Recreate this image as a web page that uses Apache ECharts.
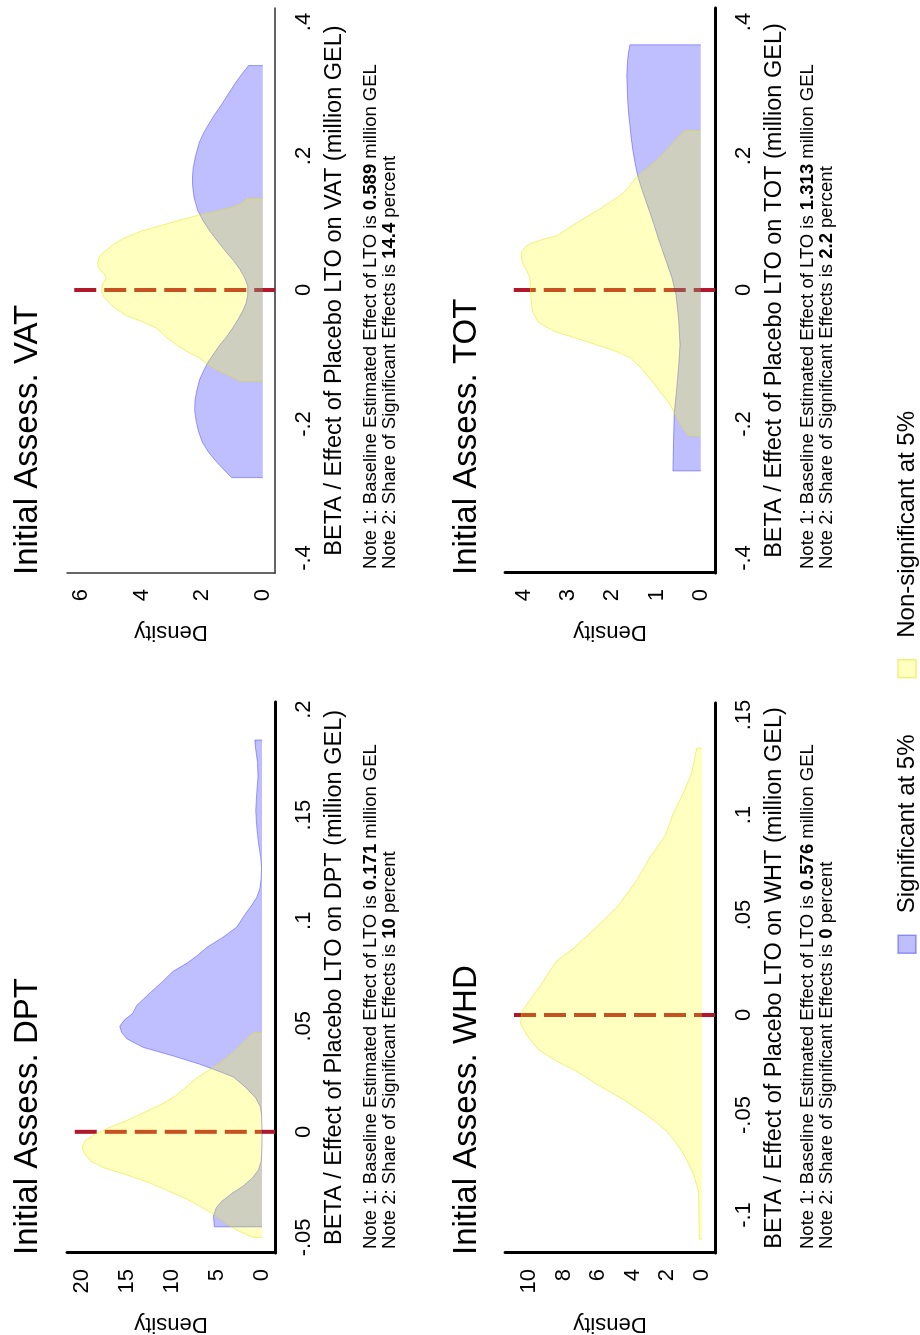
<!DOCTYPE html>
<html><head><meta charset="utf-8">
<script src="https://cdn.jsdelivr.net/npm/echarts@6/dist/echarts.min.js"></script>
<style>
html,body{margin:0;padding:0;width:920px;height:1335px;overflow:hidden;background:#fff;}
#wrap{position:absolute;left:0;top:0;width:1335px;height:920px;transform-origin:0 0;transform:translate(0,1335px) rotate(-90deg);}
#chart{width:1335px;height:920px;background:#fff;}
</style></head><body><div id="wrap"><div id="chart"></div></div>
<script>
// ---------- data ----------
const panelTitles = ['Initial Assess. DPT', 'Initial Assess. VAT', 'Initial Assess. WHD', 'Initial Assess. TOT'];
const outcomeCodes = ['DPT', 'VAT', 'WHT', 'TOT'];
const baselineEffect = ['0.171', '0.589', '0.576', '1.313'];
const shareSignificant = ['10', '14.4', '0', '2.2'];
const legendNames = ['Significant at 5%', 'Non-significant at 5%'];

const xTicks = [
  [-0.05, 0, 0.05, 0.1, 0.15, 0.2],
  [-0.4, -0.2, 0, 0.2, 0.4],
  [-0.1, -0.05, 0, 0.05, 0.1, 0.15],
  [-0.4, -0.2, 0, 0.2, 0.4]
];
const yTicks = [
  [0, 5, 10, 15, 20],
  [0, 2, 4, 6],
  [0, 2, 4, 6, 8, 10],
  [0, 1, 2, 3, 4]
];
const xMin = [-0.0574, -0.4224, -0.119, -0.4224];
const xMax = [0.2036, 0.4209, 0.156, 0.4209];
const yMin = [-1.44, -0.40, -0.75, -0.32];
const yMax = [21.67, 6.46, 11.39, 4.42];
const zeroLineTop = [20.8, 6.22, 10.87, 4.22];

const dptSig = [[-0.045,5.3],[-0.040,5.4],[-0.036,5.1],[-0.033,4.5],[-0.029,3.3],[-0.026,2.2],[-0.022,1.1],[-0.018,0.4],[-0.014,0.1],[-0.008,0.02],[0.0,0.0],[0.008,0.05],[0.012,0.2],[0.016,0.7],[0.021,1.8],[0.026,3.2],[0.029,5.0],[0.032,6.9],[0.036,9.9],[0.040,13.2],[0.044,15.0],[0.047,15.6],[0.050,15.8],[0.053,15.3],[0.056,14.4],[0.060,13.9],[0.066,12.4],[0.071,11.1],[0.076,9.9],[0.080,8.3],[0.0835,7.2],[0.0875,6.1],[0.092,4.4],[0.097,2.8],[0.103,1.9],[0.107,1.2],[0.111,0.6],[0.115,0.25],[0.120,0.1],[0.125,0.05],[0.130,0.15],[0.137,0.4],[0.145,0.6],[0.152,0.7],[0.160,0.6],[0.168,0.45],[0.175,0.5],[0.181,0.7],[0.1856,0.8]];
const dptNonSig = [[-0.050,1.0],[-0.047,2.6],[-0.044,3.8],[-0.040,5.0],[-0.036,6.6],[-0.032,8.3],[-0.028,10.4],[-0.024,12.6],[-0.020,15.3],[-0.017,17.6],[-0.014,19.0],[-0.010,19.8],[-0.007,20.0],[-0.004,19.6],[-0.001,18.5],[0.002,17.0],[0.005,15.2],[0.009,13.2],[0.013,11.2],[0.017,9.6],[0.021,8.5],[0.025,7.4],[0.029,6.0],[0.033,4.6],[0.037,3.4],[0.041,2.4],[0.044,1.7],[0.047,1.0]];

const vatSig = [[-0.280,1.03],[-0.270,1.25],[-0.258,1.5],[-0.243,1.78],[-0.227,2.0],[-0.210,2.13],[-0.196,2.2],[-0.180,2.25],[-0.165,2.24],[-0.150,2.18],[-0.133,2.08],[-0.120,1.95],[-0.107,1.8],[-0.095,1.62],[-0.082,1.42],[-0.070,1.2],[-0.057,1.0],[-0.044,0.82],[-0.031,0.66],[-0.019,0.55],[-0.007,0.5],[0.006,0.5],[0.018,0.6],[0.031,0.76],[0.044,0.97],[0.056,1.2],[0.072,1.48],[0.088,1.75],[0.104,1.98],[0.119,2.15],[0.138,2.27],[0.157,2.32],[0.170,2.32],[0.182,2.3],[0.200,2.22],[0.220,2.1],[0.233,1.97],[0.245,1.82],[0.260,1.62],[0.277,1.36],[0.292,1.15],[0.308,0.92],[0.322,0.70],[0.335,0.47]];
const vatNonSig = [[-0.136,0.76],[-0.128,1.1],[-0.120,1.5],[-0.110,1.85],[-0.101,2.1],[-0.092,2.5],[-0.082,2.85],[-0.070,3.2],[-0.057,3.5],[-0.047,4.0],[-0.038,4.5],[-0.028,4.85],[-0.019,5.07],[-0.010,5.25],[0.0,5.33],[0.009,5.28],[0.018,5.17],[0.025,5.25],[0.031,5.4],[0.040,5.45],[0.050,5.4],[0.060,5.15],[0.069,4.9],[0.078,4.55],[0.088,4.0],[0.097,3.3],[0.106,2.6],[0.112,2.1],[0.118,1.5],[0.125,0.9],[0.131,0.65],[0.137,0.53]];

const whdSig = [];
const whdNonSig = [[-0.112,0.15],[-0.100,0.18],[-0.088,0.2],[-0.0795,0.5],[-0.074,0.8],[-0.069,1.1],[-0.064,1.5],[-0.0585,2.0],[-0.054,2.6],[-0.050,3.2],[-0.046,3.9],[-0.042,4.6],[-0.038,5.4],[-0.0335,6.3],[-0.030,6.9],[-0.027,7.5],[-0.024,8.2],[-0.021,8.8],[-0.017,9.5],[-0.0105,10.1],[-0.004,10.5],[0.002,10.4],[0.008,9.9],[0.0165,9.2],[0.022,8.8],[0.027,8.4],[0.0335,7.4],[0.044,6.1],[0.054,4.9],[0.067,3.8],[0.079,3.0],[0.090,2.1],[0.100,1.7],[0.1125,1.0],[0.121,0.6],[0.1335,0.3]];

const totSig = [[-0.270,0.63],[-0.240,0.62],[-0.210,0.61],[-0.184,0.6],[-0.151,0.55],[-0.113,0.5],[-0.082,0.47],[-0.045,0.5],[-0.007,0.56],[0.018,0.65],[0.037,0.75],[0.056,0.85],[0.075,0.95],[0.094,1.04],[0.112,1.13],[0.131,1.23],[0.150,1.33],[0.169,1.42],[0.188,1.48],[0.207,1.53],[0.226,1.57],[0.245,1.6],[0.264,1.63],[0.282,1.65],[0.300,1.66],[0.319,1.67],[0.335,1.66],[0.345,1.65],[0.355,1.63],[0.366,1.6]];
const totNonSig = [[-0.218,0.27],[-0.207,0.4],[-0.190,0.55],[-0.170,0.7],[-0.151,0.93],[-0.138,1.08],[-0.126,1.23],[-0.113,1.4],[-0.101,1.6],[-0.092,1.9],[-0.082,2.35],[-0.072,2.8],[-0.063,3.25],[-0.055,3.5],[-0.047,3.68],[-0.032,3.8],[-0.007,3.84],[0.018,3.86],[0.028,3.92],[0.037,4.0],[0.047,4.05],[0.056,4.05],[0.063,3.98],[0.069,3.86],[0.075,3.6],[0.081,3.25],[0.094,2.95],[0.106,2.66],[0.118,2.35],[0.131,2.05],[0.144,1.76],[0.156,1.6],[0.169,1.45],[0.181,1.22],[0.194,1.0],[0.207,0.8],[0.220,0.63],[0.229,0.5],[0.238,0.36]];

const sigSeries = [dptSig, vatSig, whdSig, totSig];
const nonSigSeries = [dptNonSig, vatNonSig, whdNonSig, totNonSig];

// ---------- layout / style ----------
const FONT = '"Liberation Sans", Arial, Helvetica, sans-serif';
const gridLeft = [82, 762, 82, 762];
const gridTop = [67, 67, 505, 505];
const gridWidth = [551, 565, 550, 565];
const gridHeight = [208, 208, 210, 210];
const axisLineWidth = [3, 1.5, 3, 3];
const axisLineColor = ['#000', '#333', '#000', '#000'];
const yNameGap = [60, 48, 60, 48];
const titleTop = [11, 11, 450, 450];
const noteTop = [362, 362, 799, 799];

const SIG_FILL = 'rgba(0,0,255,0.25)';
const SIG_LINE = 'rgba(0,0,255,0.35)';
const NON_FILL = 'rgba(255,255,0,0.25)';
const NON_LINE = 'rgba(225,225,0,0.45)';
const RED = '#B2182B';

function withEdges(arr) {
  if (!arr.length) return [];
  return [[arr[0][0], 0]].concat(arr, [[arr[arr.length - 1][0], 0]]);
}
function fmtX(v) {
  const r = Math.round(v * 1000) / 1000;
  if (r === 0) return '0';
  return String(r).replace('0.', '.');
}

const grids = [], xAxes = [], yAxes = [], series = [], titles = [];
for (let i = 0; i < 4; i++) {
  grids.push({ left: gridLeft[i], top: gridTop[i], width: gridWidth[i], height: gridHeight[i], containLabel: false, outerBoundsMode: 'none' });
  xAxes.push({
    type: 'value', gridIndex: i, min: xMin[i], max: xMax[i],
    name: 'BETA / Effect of Placebo LTO on ' + outcomeCodes[i] + ' (million GEL)',
    nameLocation: 'middle', nameGap: 48,
    nameTextStyle: { fontSize: 23.5, color: '#000', fontFamily: FONT },
    axisLine: { show: true, onZero: false, lineStyle: { color: axisLineColor[i], width: axisLineWidth[i] } },
    axisTick: { show: false },
    splitLine: { show: false },
    axisLabel: { customValues: xTicks[i], formatter: fmtX, fontSize: 22, color: '#000', fontFamily: FONT, margin: 18 }
  });
  yAxes.push({
    type: 'value', gridIndex: i, min: yMin[i], max: yMax[i],
    name: 'Density', nameLocation: 'middle', nameGap: yNameGap[i],
    nameTextStyle: { fontSize: 22, color: '#000', fontFamily: FONT },
    axisLine: { show: true, onZero: false, lineStyle: { color: axisLineColor[i], width: axisLineWidth[i] } },
    axisTick: { show: false },
    splitLine: { show: false },
    axisLabel: { customValues: yTicks[i], formatter: v => String(Math.round(v)), fontSize: 22, color: '#000', fontFamily: FONT, margin: 16 }
  });
  series.push({
    type: 'line', xAxisIndex: i, yAxisIndex: i, z: 2, silent: true,
    data: [[0, zeroLineTop[i]], [0, yMin[i]]],
    showSymbol: false, symbol: 'none',
    lineStyle: { color: RED, width: 4, type: [22, 8], cap: 'butt' }
  });
  series.push({
    name: legendNames[0], type: 'line', xAxisIndex: i, yAxisIndex: i, z: 3, silent: true,
    data: withEdges(sigSeries[i]), showSymbol: false, symbol: 'none', smooth: false,
    lineStyle: { color: SIG_LINE, width: 1 },
    itemStyle: { color: SIG_FILL },
    areaStyle: { color: SIG_FILL, opacity: 1 }
  });
  series.push({
    name: legendNames[1], type: 'line', xAxisIndex: i, yAxisIndex: i, z: 4, silent: true,
    data: withEdges(nonSigSeries[i]), showSymbol: false, symbol: 'none', smooth: false,
    lineStyle: { color: NON_LINE, width: 1 },
    itemStyle: { color: NON_FILL },
    areaStyle: { color: NON_FILL, opacity: 1 }
  });
  titles.push({
    text: panelTitles[i], left: gridLeft[i] - 2, top: titleTop[i], padding: 0,
    textStyle: { fontSize: 33, fontWeight: 'normal', color: '#000', fontFamily: FONT }
  });
  titles.push({
    text: '{n|Note 1: Baseline Estimated Effect of LTO is }{b|' + baselineEffect[i] + '}{n| million GEL}\n' +
          '{n|Note 2: Share of Significant Effects is }{b|' + shareSignificant[i] + '}{n| percent}',
    left: gridLeft[i] + 4, top: noteTop[i], padding: 0,
    textStyle: {
      fontSize: 18.5, lineHeight: 18.5, color: '#000', fontFamily: FONT, fontWeight: 'normal',
      rich: {
        n: { fontSize: 18.5, lineHeight: 18.5, color: '#000', fontFamily: FONT },
        b: { fontSize: 18.5, lineHeight: 18.5, color: '#000', fontFamily: FONT, fontWeight: 'bold' }
      }
    }
  });
}

const option = {
  animation: false,
  backgroundColor: '#fff',
  title: titles,
  legend: {
    left: 381, top: 895, padding: 0, orient: 'horizontal', icon: 'rect',
    itemWidth: 18, itemHeight: 18, itemGap: 56, selectedMode: false,
    textStyle: { fontSize: 24, lineHeight: 24, color: '#000', fontFamily: FONT, padding: [0, 0, 0, 17] },
    data: [
      { name: legendNames[0], itemStyle: { color: SIG_FILL, borderColor: SIG_LINE, borderWidth: 1.5 } },
      { name: legendNames[1], itemStyle: { color: NON_FILL, borderColor: NON_LINE, borderWidth: 1.5 } }
    ]
  },
  grid: grids,
  xAxis: xAxes,
  yAxis: yAxes,
  series: series
};
const chart = echarts.init(document.getElementById('chart'), null, { renderer: 'canvas' });
chart.setOption(option);
</script></body></html>
